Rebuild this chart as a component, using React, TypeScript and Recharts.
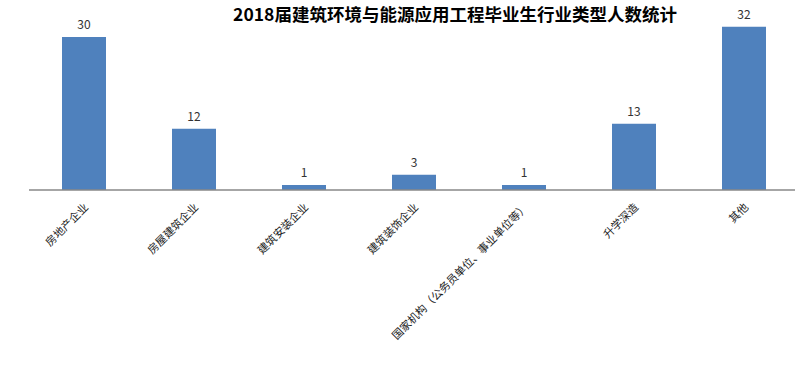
import { BarChart, Bar, XAxis, YAxis, LabelList } from 'recharts';

const categories = [
  '房地产企业',
  '房屋建筑企业',
  '建筑安装企业',
  '建筑装饰企业',
  '国家机构（公务员单位、事业单位等）',
  '升学深造',
  '其他',
];
const counts = [30, 12, 1, 3, 1, 13, 32];

const data = categories.map((name, i) => ({ name, count: counts[i] }));

const FONT = '"Noto Sans CJK SC", "Noto Sans", sans-serif';

function AngledTick({ x, y, payload }: any) {
  return (
    <g transform={`translate(${x + 5},${y + 10})`}>
      <text
        transform="rotate(-45)"
        textAnchor="end"
        fontSize={11}
        fontFamily={FONT}
        fill="#1a1a1a"
      >
        {payload.value}
      </text>
    </g>
  );
}

export default function App() {
  return (
    <div
      style={{
        position: 'absolute',
        left: 0,
        top: 0,
        width: 795,
        height: 378,
        overflow: 'hidden',
        background: '#fff',
      }}
    >
      <div
        style={{
          position: 'absolute',
          left: 0,
          width: 910,
          top: 1,
          textAlign: 'center',
          fontFamily: FONT,
          fontWeight: 700,
          fontSize: 17.5,
          color: '#000',
        }}
      >
        2018届建筑环境与能源应用工程毕业生行业类型人数统计
      </div>
      <BarChart
        width={800}
        height={378}
        data={data}
        margin={{ top: 11.5, right: 1, left: 29, bottom: 38 }}
      >
        <XAxis
          dataKey="name"
          height={150}
          interval={0}
          axisLine={{ stroke: '#888888', strokeWidth: 1.5 }}
          tickLine={false}
          tick={<AngledTick />}
        />
        <YAxis hide domain={[0, 35]} />
        <Bar dataKey="count" fill="#4F81BD" barSize={44} isAnimationActive={false}>
          <LabelList
            dataKey="count"
            position="top"
            offset={8}
            fontSize={12}
            fontFamily={FONT}
            fill="#333"
          />
        </Bar>
      </BarChart>
    </div>
  );
}
